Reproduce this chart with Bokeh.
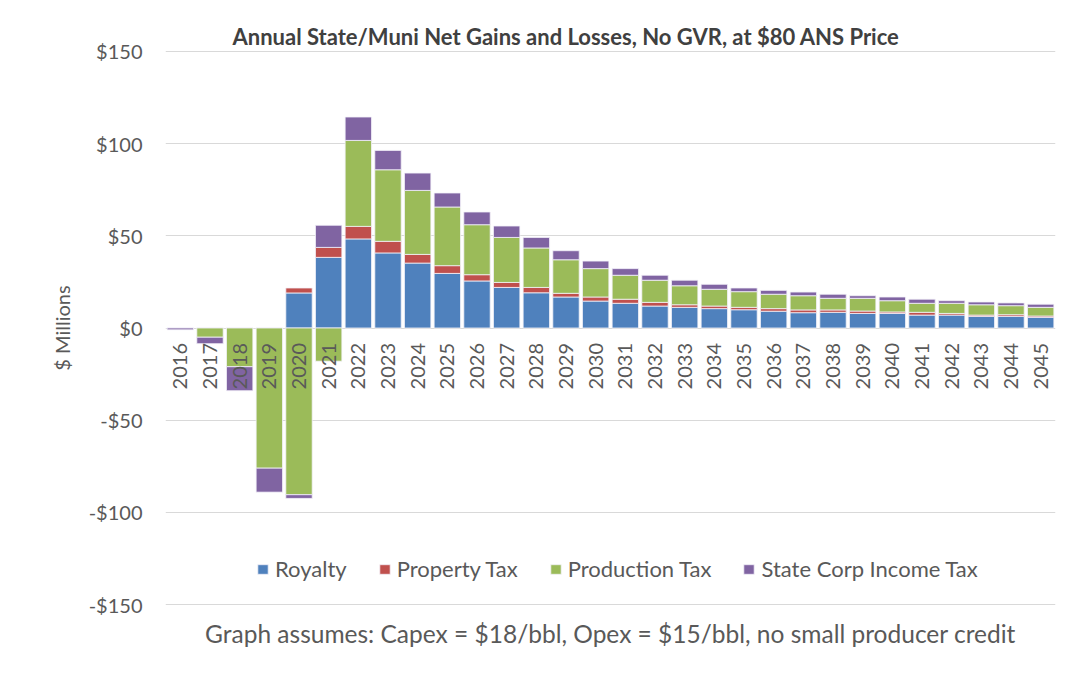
import numpy as np
from bokeh.plotting import figure
from bokeh.models import (Range1d, Legend, LegendItem, Title, CustomJSTickFormatter,
                          FixedTicker, ColumnDataSource)
from bokeh.core.properties import value
from bokeh.embed import file_html
from bokeh.resources import INLINE

years = [str(y) for y in range(2016, 2046)]

royalty = [0, 0, 0, 0, 19.0, 38.3, 48.3, 40.7, 35.2, 29.6, 25.5, 22.0, 19.1, 16.8, 14.6,
           13.4, 11.9, 11.2, 10.5, 9.9, 9.1, 8.3, 8.5, 7.9, 7.9, 7.0, 7.0, 6.3, 6.3, 5.8]
property_tax = [0, 0, 0, 0, 2.7, 5.4, 6.8, 6.3, 4.7, 4.2, 3.4, 2.7, 2.9, 2.0, 2.2,
                2.2, 2.0, 1.4, 1.4, 1.3, 1.4, 1.5, 1.3, 1.3, 0.8, 1.5, 0.9, 0.7, 0.9, 0.7]
production_tax = [0, -5.0, -21.0, -76.0, -90.4, -18.0, 46.6, 38.8, 34.7, 31.8, 27.1, 24.4, 21.4, 18.2, 15.4,
                  13.0, 12.0, 10.3, 9.1, 8.5, 7.8, 7.7, 6.3, 6.9, 6.1, 4.9, 5.5, 5.6, 4.9, 4.7]
corp_income_tax = [-1.0, -3.5, -13.0, -13.0, -2.0, 12.0, 12.7, 10.5, 9.4, 7.6, 6.9, 6.2, 5.7, 4.9, 4.1,
                   3.6, 2.7, 3.0, 2.7, 2.0, 2.1, 2.0, 2.2, 1.4, 2.0, 2.2, 1.4, 1.5, 1.5, 1.7]

series_names = ["Royalty", "Property Tax", "Production Tax", "State Corp Income Tax"]
series_values = [royalty, property_tax, production_tax, corp_income_tax]
series_colors = ["#4F81BD", "#C0504D", "#9BBB59", "#8064A2"]

y_ticks = [-150, -100, -50, 0, 50, 100, 150]

FONT = "Lato"
GRAY = "#595959"

p = figure(x_range=years, y_range=Range1d(-151, 151), width=1068, height=658,
           output_backend="svg", toolbar_location=None,
           min_border_left=165, min_border_right=13, min_border_top=49, min_border_bottom=52)
p.outline_line_color = None
p.background_fill_color = "white"
p.border_fill_color = "white"

pos_base = np.zeros(len(years))
neg_base = np.zeros(len(years))
renderers = []
for name, vals, col in zip(series_names, series_values, series_colors):
    v = np.array(vals, dtype=float)
    pv = np.clip(v, 0, None)
    nv = np.clip(v, None, 0)
    bottom = np.where(v >= 0, pos_base, neg_base + nv)
    top = np.where(v >= 0, pos_base + pv, neg_base)
    src = ColumnDataSource(dict(x=years, bottom=bottom, top=top))
    r = p.vbar(x="x", bottom="bottom", top="top", width=0.89, source=src,
               fill_color=col, line_color="#f4f2fa", line_width=0.8)
    renderers.append(r)
    pos_base = pos_base + pv
    neg_base = neg_base + nv

# category labels drawn at the zero line (on top of bars)
p.text(x=years, y=np.zeros(len(years)), text=years, angle=np.pi / 2,
       text_align="right", text_baseline="middle", y_offset=15,
       text_font=value(FONT), text_font_size="20px", text_color=GRAY)

p.xaxis.visible = False
p.xgrid.grid_line_color = None

p.yaxis.ticker = FixedTicker(ticks=y_ticks)
p.yaxis.formatter = CustomJSTickFormatter(code="return (tick < 0 ? '-$' : '$') + Math.abs(tick);")
p.yaxis.major_label_text_font = FONT
p.yaxis.major_label_text_font_size = "20px"
p.yaxis.major_label_text_color = GRAY
p.yaxis.major_tick_out = 0
p.yaxis.major_tick_in = 0
p.yaxis.major_label_standoff = 23
p.yaxis.axis_line_color = None
p.yaxis.major_tick_line_color = None
p.yaxis.minor_tick_line_color = None
p.yaxis.axis_label = "$ Millions"
p.yaxis.axis_label_text_font = FONT
p.yaxis.axis_label_text_font_size = "20px"
p.yaxis.axis_label_text_font_style = "normal"
p.yaxis.axis_label_text_color = GRAY
p.yaxis.axis_label_standoff = 12
p.ygrid.grid_line_color = "#d9d9d9"
p.ygrid.grid_line_width = 1

legend = Legend(items=[LegendItem(label=n, renderers=[r]) for n, r in zip(series_names, renderers)],
                orientation="horizontal", location=(91, 24),
                label_text_font=FONT, label_text_font_size="22px", label_text_color=GRAY,
                glyph_width=13, glyph_height=12, label_standoff=6, spacing=31,
                padding=0, margin=0, border_line_color=None, background_fill_alpha=0)
p.add_layout(legend, "center")

title = Title(text="Annual State/Muni Net Gains and Losses, No GVR, at $80 ANS Price",
              text_font=FONT, text_font_size="22px", text_font_style="bold", text_color="#404040",
              align="left", offset=67, standoff=0)
p.add_layout(title, "above")

note = Title(text="Graph assumes: Capex = $18/bbl, Opex = $15/bbl, no small producer credit",
             text_font=FONT, text_font_size="24.5px", text_font_style="normal", text_color=GRAY,
             align="center", standoff=20)
p.add_layout(note, "below")

open("out.html", "w").write(file_html(p, INLINE))
